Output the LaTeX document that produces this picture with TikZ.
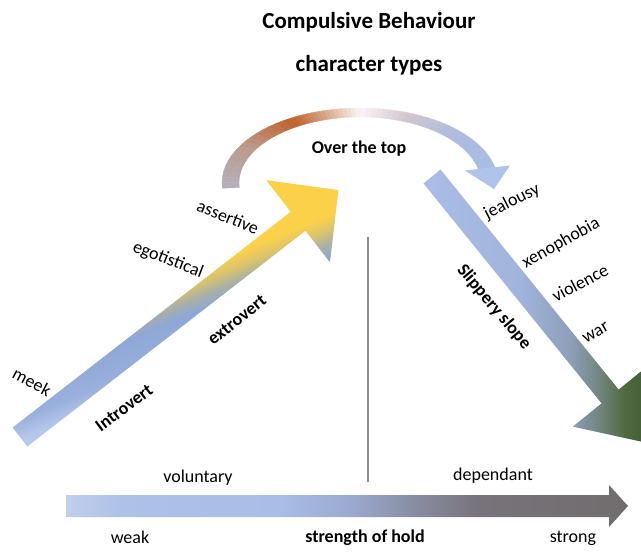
\documentclass[tikz,border=0pt]{standalone}
\usepackage{fontspec}
\setmainfont{Carlito}
\usetikzlibrary{calc}

\definecolor{riseA}{HTML}{B6C8EB}
\definecolor{riseB}{HTML}{99B0DD}
\definecolor{riseC}{HTML}{8FA7D6}
\definecolor{riseD}{HTML}{AAB0A4}
\definecolor{riseE}{HTML}{DCC46C}
\definecolor{riseF}{HTML}{FBD14A}
\definecolor{riseG}{HTML}{FFD23E}
\definecolor{slopeA}{HTML}{A9BDE6}
\definecolor{slopeB}{HTML}{A0B4DC}
\definecolor{slopeC}{HTML}{8E9FBA}
\definecolor{slopeD}{HTML}{71857E}
\definecolor{slopeE}{HTML}{51693F}
\definecolor{slopeF}{HTML}{3E5A33}
\definecolor{holdA}{HTML}{C0CFEA}
\definecolor{holdB}{HTML}{AEC1E7}
\definecolor{holdC}{HTML}{A9BDE6}
\definecolor{holdD}{HTML}{9BAAD0}
\definecolor{holdE}{HTML}{878B9F}
\definecolor{holdF}{HTML}{78737A}
\definecolor{holdG}{HTML}{716C6D}
\definecolor{arcgray}{HTML}{B4B0BC}
\definecolor{arcmauve}{HTML}{BC9A8C}
\definecolor{arcrust}{HTML}{C0622C}
\definecolor{arcpeach}{HTML}{D8A888}
\definecolor{arcwhite}{HTML}{FAF6F4}
\definecolor{arclilac}{HTML}{D4C8D0}
\definecolor{arcsky}{HTML}{AEBCDC}
\definecolor{arcblue}{HTML}{A8BDE5}
\definecolor{archead}{HTML}{B0C3E8}
\definecolor{divider}{HTML}{8C8C8C}

\pgfdeclareverticalshading{risingshade}{100bp}{color(0bp)=(riseA); color(41bp)=(riseA); color(44bp)=(riseB); color(49bp)=(riseC); color(51bp)=(riseD); color(53bp)=(riseE); color(55bp)=(riseF); color(100bp)=(riseG)}
\pgfdeclarehorizontalshading{slopeshade}{100bp}{color(0bp)=(slopeA); color(25bp)=(slopeA); color(46.7bp)=(slopeB); color(57.6bp)=(slopeC); color(64.1bp)=(slopeD); color(69.6bp)=(slopeE); color(75bp)=(slopeF); color(100bp)=(slopeF)}
\pgfdeclarehorizontalshading{holdshade}{100bp}{color(0bp)=(holdA); color(25bp)=(holdA); color(29.8bp)=(holdB); color(44bp)=(holdC); color(50.2bp)=(holdD); color(56.4bp)=(holdE); color(61.7bp)=(holdF); color(75bp)=(holdG); color(100bp)=(holdG)}

\begin{document}
\begin{tikzpicture}[x=1pt,y=-1pt,
    lbl/.style={font=\fontsize{18}{20}\selectfont, inner sep=0pt},
    boldlbl/.style={font=\fontsize{18}{20}\selectfont\bfseries, inner sep=0pt},
    titlelbl/.style={font=\fontsize{23}{26}\selectfont\bfseries, inner sep=0pt}]
    \useasboundingbox (0,0) rectangle (641,552);
    \clip (0,0) rectangle (641,552);

    % title
    \node[titlelbl] (title) at (369,22) {Compulsive Behaviour};
    \node[titlelbl] (subtitle) at (369,65) {character types};

    % arc over the top
    \coordinate (arcc) at (360,183);
    \foreach \ta/\tb/\ca/\cb in {184/150/arcgray/arcmauve, 150/120/arcmauve/arcrust,
        120/105/arcrust/arcpeach, 105/90/arcpeach/arcwhite, 90/70/arcwhite/arclilac,
        70/45/arclilac/arcsky, 45/12/arcsky/arcblue}
        \foreach \i in {1,...,8} {
            \pgfmathsetmacro\tone{\ta+(\tb-\ta)*(\i-1)/8}
            \pgfmathsetmacro\ttwo{\ta+(\tb-\ta)*\i/8}
            \pgfmathtruncatemacro\mix{(\i-0.5)*12.5}
            \fill[\cb!\mix!\ca, draw=\cb!\mix!\ca, line width=0.3pt]
                ($(arcc)+({138*cos(\tone)},{-75*sin(\tone)})$) --
                ($(arcc)+({138*cos(\ttwo)},{-75*sin(\ttwo)})$) --
                ($(arcc)+({121*cos(\ttwo)},{-66*sin(\ttwo)})$) --
                ($(arcc)+({121*cos(\tone)},{-66*sin(\tone)})$) -- cycle;
        }
    \fill[archead] (465,170.5) -- (510,165.5) -- (494,189) -- cycle;
    \node[boldlbl] (top) at (359,149) {Over the top};

    % rising arrow
    \begin{scope}
        \clip[shift={(20,437)}, rotate=37.8]
            (0,-12) -- (352,-12) -- (352,-52) -- (403,0) -- (352,52) -- (352,12) -- (0,12) -- cycle;
        \shade[shading=risingshade, shading angle=22] (10,148) rectangle (340,478);
    \end{scope}

    % slippery slope arrow
    \begin{scope}
        \clip[shift={(432,176.5)}, rotate=-51]
            (0,-11) -- (283,-11) -- (283,-48) -- (343,0) -- (283,48) -- (283,11) -- (0,11) -- cycle;
        \shade[shading=slopeshade] (420,160) rectangle (650,450);
    \end{scope}

    % strength of hold arrow
    \shade[shading=holdshade] (66,495) -- (609,495) -- (609,485) -- (628,506)
        -- (609,527) -- (609,517) -- (66,517) -- cycle;

    % divider
    \coordinate (divtop) at (368,237);
    \coordinate (divbot) at (368,482);
    \draw[divider, line width=1.1pt] (divtop) -- (divbot);

    % rising labels
    \node[lbl, rotate=-22] (assertive) at (228,217) {assertive};
    \node[lbl, rotate=-21] (egotistical) at (168,260) {egotistical};
    \node[lbl, rotate=-28] (meek) at (32,382) {meek};
    \node[boldlbl, rotate=38.5] (extrovert) at (237,320) {extrovert};
    \node[boldlbl, rotate=37] (introvert) at (124,408) {Introvert};

    % slope labels
    \node[lbl, rotate=27] (jealousy) at (512,202) {jealousy};
    \node[lbl, rotate=29] (xenophobia) at (561,243) {xenophobia};
    \node[lbl, rotate=28] (violence) at (580,283) {violence};
    \node[lbl, rotate=30] (war) at (596,333) {war};
    \node[boldlbl, rotate=-50] (slippery) at (494,307) {Slippery slope};

    % hold labels
    \node[lbl] (voluntary) at (198,478) {voluntary};
    \node[lbl] (dependant) at (493,476) {dependant};
    \node[lbl] (weak) at (130,537) {weak};
    \node[boldlbl] (hold) at (365,538) {strength of hold};
    \node[lbl] (strong) at (573,538) {strong};
\end{tikzpicture}
\end{document}
